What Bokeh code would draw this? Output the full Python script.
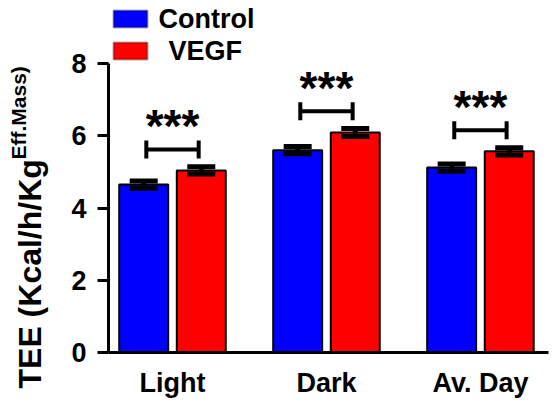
import math
import numpy as np
from bokeh.plotting import figure
from bokeh.models import Range1d, FixedTicker, Label, BoxAnnotation, ColumnDataSource, Whisker, TeeHead
from bokeh.core.properties import value
from bokeh.embed import file_html
from bokeh.resources import INLINE

# Total energy expenditure per period, mean and SEM
periods = ["Light", "Dark", "Av. Day"]
groups = ["Control", "VEGF"]
control_mean = [4.65, 5.60, 5.12]
control_sem = [0.10, 0.10, 0.10]
vegf_mean = [5.04, 6.09, 5.57]
vegf_sem = [0.10, 0.11, 0.10]
sig_labels = ["***", "***", "***"]
y_ticks = [0, 2, 4, 6, 8]

FONT = "Liberation Sans"
colors = {"Control": "#0000FF", "VEGF": "#FF0000"}

centers = np.arange(len(periods)) + 0.5
offset = 0.187
bar_w = 0.318

# the frame reaches the top of the canvas so the legend sits inside it;
# the y axis itself is bounded to 0..8
p = figure(width=555, height=404, output_backend="svg", toolbar_location=None,
           x_range=Range1d(0.0844, 2.942), y_range=Range1d(0, 9.744),
           min_border_left=108, min_border_right=7, min_border_top=0, min_border_bottom=52)
p.background_fill_color = "white"
p.border_fill_color = "white"
p.outline_line_color = None
p.xgrid.visible = False
p.ygrid.visible = False

series = [("Control", control_mean, control_sem, -offset),
          ("VEGF", vegf_mean, vegf_sem, offset)]
for name, mean, sem, dx in series:
    xs = centers + dx
    src = ColumnDataSource(dict(x=xs, top=mean,
                                upper=np.array(mean) + np.array(sem),
                                lower=np.array(mean) - np.array(sem)))
    p.vbar(x="x", top="top", bottom=0, width=bar_w, source=src,
           fill_color=colors[name], line_color="black", line_width=2)
    p.add_layout(Whisker(base="x", upper="upper", lower="lower", source=src,
                         level="overlay", line_width=5, line_color="black",
                         upper_head=TeeHead(size=28, line_width=5, line_color="black"),
                         lower_head=TeeHead(size=28, line_width=5, line_color="black")))

# significance brackets above each pair
tops = np.maximum(np.array(control_mean) + np.array(control_sem),
                  np.array(vegf_mean) + np.array(vegf_sem))
by = tops + 0.48
half = 0.17
tick = 0.25
p.segment(x0=centers - half, x1=centers + half, y0=by, y1=by, line_width=4, line_color="black")
p.segment(x0=centers - half, x1=centers - half, y0=by - tick, y1=by + tick, line_width=4, line_color="black")
p.segment(x0=centers + half, x1=centers + half, y0=by - tick, y1=by + tick, line_width=4, line_color="black")
p.text(x=centers, y=by, text=sig_labels, text_font=value(FONT), text_font_style="bold",
       text_font_size="46px", text_align="center", text_baseline="alphabetic",
       y_offset=-23, text_color="black")

# axes
p.xaxis.ticker = FixedTicker(ticks=list(centers))
p.xaxis.major_label_overrides = {float(c): lab for c, lab in zip(centers, periods)}
p.xaxis.major_tick_out = 0
p.xaxis.major_tick_in = 0
p.xaxis.minor_tick_line_color = None
p.xaxis.axis_line_width = 3
p.xaxis.major_label_text_font = FONT
p.xaxis.major_label_text_font_style = "bold"
p.xaxis.major_label_text_font_size = "27px"
p.xaxis.major_label_text_color = "black"
p.xaxis.major_label_standoff = 15

p.yaxis.ticker = FixedTicker(ticks=y_ticks)
p.yaxis.bounds = (0, 8)
p.yaxis.major_tick_out = 11
p.yaxis.major_tick_in = 0
p.yaxis.major_tick_line_width = 3
p.yaxis.minor_tick_line_color = None
p.yaxis.axis_line_width = 3
p.yaxis.major_label_text_font = FONT
p.yaxis.major_label_text_font_style = "bold"
p.yaxis.major_label_text_font_size = "27px"
p.yaxis.major_label_text_color = "black"
p.yaxis.major_label_standoff = 11

# y-axis title with superscript, placed in the left panel
p.add_layout(Label(x=29, y=388, x_units="canvas", y_units="canvas", angle=math.pi / 2,
                   text="TEE (Kcal/h/Kg", text_font=FONT, text_font_style="bold",
                   text_font_size="32px", text_align="left", text_baseline="alphabetic",
                   text_color="black"), "left")
p.add_layout(Label(x=18, y=159, x_units="canvas", y_units="canvas", angle=math.pi / 2,
                   text="Eff.Mass)", text_font=FONT, text_font_style="bold",
                   text_font_size="21px", text_align="left", text_baseline="alphabetic",
                   text_color="black"), "left")

# legend
legend_rows = [("Control", 10, 158), ("VEGF", 42, 168)]
for name, top, tx in legend_rows:
    p.add_layout(BoxAnnotation(left=113, right=147, top=top, bottom=top + 17,
                               left_units="canvas", right_units="canvas",
                               top_units="canvas", bottom_units="canvas",
                               fill_color=colors[name], fill_alpha=1.0,
                               line_color="black", line_width=2))
    p.add_layout(Label(x=tx, y=top + 8.5, x_units="canvas", y_units="canvas", text=name,
                       text_font=FONT, text_font_style="bold", text_font_size="27px",
                       text_align="left", text_baseline="middle", text_color="black"))

open("out.html", "w").write(file_html(p, INLINE))
